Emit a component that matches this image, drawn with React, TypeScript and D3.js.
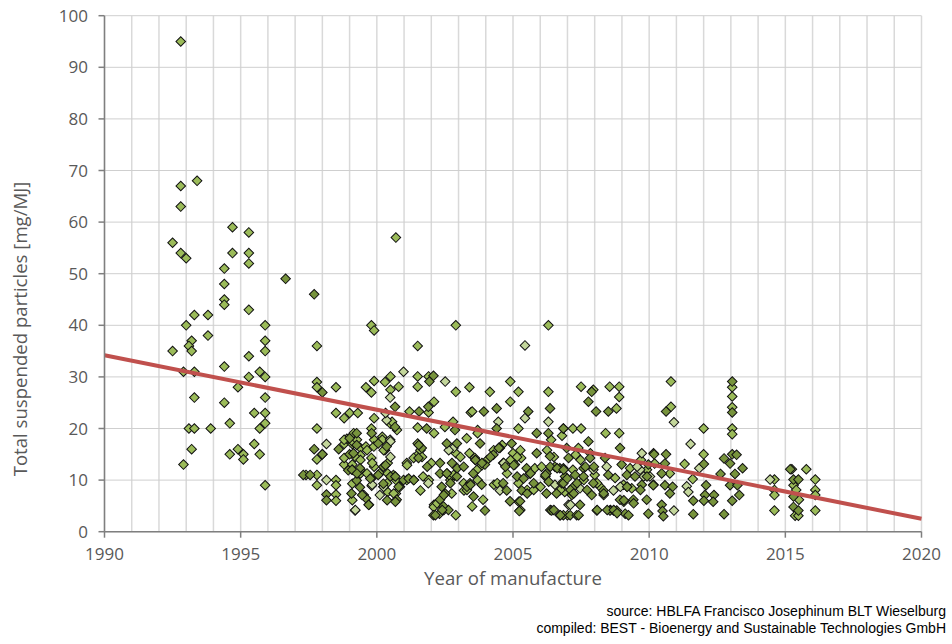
import React from 'react';
import * as d3 from 'd3';

// [year of manufacture, TSP mg/MJ]
const seriesMain: [number, number][] = [
  [1992.8, 95], [1992.8, 67], [1993.4, 68], [1992.8, 63], [1994.7, 59], [1995.3, 58], [2000.7, 57], [1992.5, 56],
  [1992.8, 54], [1993.0, 53], [1994.7, 54], [1995.3, 54], [1995.3, 52], [1994.4, 51], [1994.4, 48], [1994.4, 45],
  [1994.4, 44], [1993.3, 42], [1993.8, 42], [1995.3, 43], [1993.0, 40], [1995.9, 40], [1999.8, 40], [1999.9, 39],
  [1993.2, 37], [1993.8, 38], [1995.9, 37], [1993.1, 36], [1997.8, 36], [2001.5, 36], [1992.5, 35], [1993.2, 35],
  [1995.9, 35], [1995.3, 34], [1992.9, 31], [1993.3, 31], [1994.4, 32], [1994.9, 28], [1995.3, 30], [1995.7, 31],
  [1995.9, 30], [1994.4, 25], [1993.3, 26], [1995.9, 26], [1995.5, 23], [1995.9, 23], [1995.9, 21], [1995.7, 20],
  [1994.6, 21], [1993.1, 20], [1993.3, 20], [1993.9, 20], [1993.2, 16], [1994.9, 16], [1994.6, 15], [1995.1, 15],
  [1995.1, 14], [1995.5, 17], [1995.7, 15], [1992.9, 13], [1995.9, 9], [2002.9, 40], [2006.3, 40],
  [1997.8, 29], [1997.8, 28], [1998.5, 28], [1999.6, 28], [1999.9, 29.2], [1999.8, 27], [2000.3, 29], [1998.5, 23],
  [1998.8, 22], [1999.0, 23], [1999.3, 23], [1999.9, 22], [1997.8, 20], [1999.8, 20], [1998.0, 15], [1997.8, 14],
  [1998.8, 17], [1997.4, 11], [1997.8, 11], [1997.8, 9], [1998.5, 10], [1998.5, 9], [1998.5, 7.2], [1998.5, 6],
  [1998.9, 18], [1998.8, 13], [1999.1, 13], [1999.1, 17],
  [1999.1, 18.4], [1998.8, 17.8], [1999.1, 17.5], [1999.4, 16.2], [1999.6, 16.5], [1999.4, 14.8], [1998.8, 14.3],
  [1999.1, 12.0], [1999.8, 14.3], [1999.9, 12.6], [2000.2, 18.4], [2000.3, 15.8], [1999.9, 17.8], [2000.4, 13.3],
  [2000.1, 11.3], [2000.4, 7.7], [1999.1, 9.3], [1999.1, 6.1], [1999.8, 10.3], [1999.4, 11.3],
  [2000.5, 30.1], [2000.5, 27.5], [2000.8, 28.1], [2001.5, 30.1], [2001.5, 28.1], [2001.9, 30.1], [2002.9, 27.1],
  [2003.4, 28.0], [2003.45, 23.1], [2001.2, 23.3], [2002.1, 25.2], [2001.9, 23.1], [2000.5, 20.9], [2001.5, 20.2],
  [2002.1, 19.1], [2002.5, 20.3], [2002.8, 21.3], [2003.3, 18.1], [2003.7, 19.7], [2000.2, 17.8], [2001.5, 17.1],
  [2001.5, 14.9], [2001.1, 13.3], [2001.35, 14.3], [2002.0, 13.3], [2002.9, 15.2], [2003.4, 15.2], [2003.6, 14.3],
  [2000.4, 11.3], [2000.7, 10.0], [2000.7, 7.4], [2001.1, 10.0], [2001.7, 10.7], [2001.6, 8.0], [2002.7, 10.0],
  [2002.75, 7.4], [2002.1, 5.2], [2002.3, 3.5], [2002.9, 3.2], [2003.2, 8.0], [2003.7, 10.0],
  [2004.9, 29.1], [2004.15, 27.1], [2005.2, 27.1], [2006.3, 27.1], [2004.9, 25.2], [2003.5, 23.3], [2005.2, 20.0],
  [2003.7, 19.1], [2006.8, 18.6], [2006.4, 17.8], [2005.0, 15.2], [2005.3, 14.3], [2005.8, 12.3], [2006.05, 12.6],
  [2004.3, 9.1], [2005.2, 9.4], [2006.9, 7.7], [2003.9, 6.2], [2007.0, 3.2], [2003.5, 4.9],
  [2007.5, 28.1], [2007.95, 27.5], [2008.55, 28.1], [2008.9, 28.1], [2008.9, 26.1], [2008.8, 23.9], [2007.2, 20.0],
  [2007.5, 20.0], [2008.4, 19.1], [2008.9, 19.1], [2007.4, 16.2], [2007.3, 14.9], [2009.7, 13.9], [2007.2, 12.0],
  [2009.3, 12.3], [2008.0, 11.0], [2008.2, 8.7], [2008.75, 10.4], [2009.06, 9.1], [2009.36, 8.4],
  [2010.8, 29.1], [2010.8, 24.2], [2012.0, 20.0], [2013.05, 28.0], [2013.05, 26.2], [2013.05, 24.1], [2013.05, 20.0],
  [2013.05, 18.9], [2012.0, 15.0], [2010.2, 13.2], [2011.3, 13.1], [2010.76, 11.3], [2011.6, 10.2],
  [2014.6, 10.1], [2014.6, 8.1], [2014.6, 7.1], [2014.6, 4.1], [2015.24, 12.1], [2015.77, 12.1], [2015.3, 9.0],
  [2015.4, 8.1], [2015.5, 6.2], [2015.36, 3.1], [2015.48, 3.1], [2016.1, 10.1], [2016.1, 8.1], [2016.1, 7.1],
  [2016.1, 4.1],
  [1999.15, 19.1], [1999.27, 17.8], [1999.64, 15.8], [1999.21, 14.5], [1999.4, 13.9], [1999.4, 12.0], [1999.64, 11.3],
  [1999.83, 13.3], [1999.89, 16.5], [2000.25, 15.8], [2000.38, 9.4], [2000.62, 7.4], [2000.56, 21.3], [2000.74, 19.7],
  [2001.11, 12.9], [2001.6, 15.8], [2001.66, 14.5], [2001.91, 10.0], [2002.09, 4.8], [2002.21, 5.5], [2002.46, 4.2],
  [2002.58, 11.3], [2002.7, 10.7], [2002.82, 11.0], [2003.07, 14.5], [2003.19, 9.4], [2003.31, 8.1], [2003.68, 12.0],
  [2003.86, 12.9], [2004.05, 13.9], [2004.29, 15.8], [2004.6, 16.8], [2004.78, 11.3], [2004.91, 13.9], [2005.15, 14.5],
  [2005.27, 15.8], [2005.52, 8.1], [2005.76, 8.1], [2005.21, 5.8], [2005.27, 4.2], [2004.42, 9.4], [2006.01, 8.7],
  [2006.19, 10.7], [2006.25, 15.8], [2006.5, 14.5], [2006.74, 8.1], [2006.37, 4.2], [2007.48, 13.9], [2007.6, 10.0],
  [2007.84, 15.2], [2008.09, 9.4], [2008.33, 7.1], [2008.58, 4.2], [2009.07, 5.8], [2009.92, 12.0], [2009.19, 8.7],
];

const seriesPale: [number, number][] = [
  [1998.15, 17], [1998.15, 10], [2000.98, 31.0], [2000.49, 26.0], [2002.51, 29.1], [2000.36, 21.6], [2000.49, 17.8],
  [2002.81, 16.2], [2000.24, 8.7], [2001.35, 10.0], [2001.89, 9.4], [1999.2, 4.1], [1999.81, 8.9], [2000.11, 7.1],
  [2005.44, 36.1], [2005.44, 22.0], [2004.46, 21.3], [2006.3, 21.3], [2004.52, 16.2], [2004.64, 13.3], [2006.54, 9.1],
  [2004.52, 8.0], [2009.73, 15.2], [2007.95, 12.0], [2008.44, 12.6], [2009.67, 12.0], [2010.03, 10.7], [2007.46, 8.4],
  [2008.69, 8.0], [2007.04, 5.2], [2010.91, 21.2], [2011.52, 17.0], [2011.84, 12.3], [2011.38, 8.8], [2011.44, 7.7],
  [2010.91, 4.1], [2014.44, 10.1],
  [1999.52, 7.1], [1999.21, 4.2], [1999.83, 9.1], [2000.5, 14.5], [2000.25, 8.7], [2000.5, 17.5], [2000.32, 23.0],
  [2002.64, 15.8], [2003.62, 13.9], [2004.48, 16.2], [2004.66, 13.3], [2007.11, 5.2], [2009.8, 10.7], [2009.56, 12.6],
  [2008.94, 8.7],
];

const seriesDark: [number, number][] = [
  [1996.65, 49], [1997.7, 46], [1998.0, 27], [1997.7, 16], [1998.0, 15], [1997.3, 11], [1997.55, 11], [1998.15, 7.2],
  [1998.15, 6.1], [1999.0, 15], [1998.6, 16],
  [1999.0, 18.1], [1999.26, 19.1], [1999.26, 16.8], [1999.14, 15.2], [1999.38, 12.3], [2000.05, 17.1], [1999.81, 19.1],
  [2000.24, 9.3], [1999.26, 9.9], [1999.38, 8.6], [1999.07, 7.4], [1999.71, 5.2], [1998.95, 11.9], [2000.05, 11.0],
  [1999.6, 6.5],
  [2002.08, 30.2], [2001.93, 29.1], [2000.67, 24.2], [2001.55, 23.3], [2001.89, 24.2], [2000.67, 20.3], [2001.83, 20.0],
  [2002.87, 19.7], [2000.36, 16.5], [2001.65, 16.2], [2001.53, 14.3], [2002.32, 13.3], [2002.57, 17.1], [2002.94, 17.1],
  [2000.24, 12.6], [2000.61, 11.0], [2000.85, 8.7], [2000.98, 10.0], [2000.73, 6.2], [2002.32, 11.3], [2002.57, 11.3],
  [2002.94, 10.7], [2002.38, 8.7], [2002.51, 7.4], [2002.32, 6.2], [2002.45, 4.9], [2002.08, 3.2], [2002.63, 4.2],
  [2003.42, 9.4], [2003.55, 6.8],
  [2004.4, 23.9], [2005.56, 23.3], [2006.36, 23.9], [2003.93, 23.3], [2004.4, 20.0], [2005.87, 19.1], [2006.3, 19.1],
  [2006.85, 20.0], [2003.79, 17.1], [2004.95, 17.1], [2004.28, 14.9], [2005.87, 15.2], [2006.36, 14.6], [2003.97, 13.0],
  [2005.07, 13.0], [2005.5, 12.3], [2006.54, 12.6], [2006.72, 12.3], [2005.62, 11.3], [2006.23, 11.3], [2003.54, 11.3],
  [2003.85, 9.1], [2004.64, 9.4], [2006.79, 9.4], [2004.77, 8.0], [2005.32, 8.0], [2006.23, 7.4], [2006.6, 7.4],
  [2004.89, 5.9], [2005.26, 5.9], [2003.97, 4.1], [2005.23, 4.0], [2006.42, 4.1], [2006.72, 3.2],
  [2007.89, 27.1], [2007.77, 25.2], [2008.05, 23.3], [2008.5, 23.3], [2006.85, 20.0], [2007.77, 17.5], [2008.93, 16.2],
  [2010.16, 15.2], [2006.97, 16.2], [2007.04, 14.3], [2007.83, 14.3], [2008.38, 14.3], [2008.99, 13.0], [2009.97, 13.0],
  [2006.85, 12.3], [2007.59, 12.3], [2006.91, 10.7], [2007.28, 11.0], [2007.59, 10.7], [2008.5, 11.0], [2009.18, 11.0],
  [2009.48, 10.7], [2006.85, 9.4], [2007.22, 8.7], [2007.95, 9.4], [2009.73, 9.1], [2010.16, 9.1], [2007.16, 7.1],
  [2007.89, 7.1], [2008.32, 8.0], [2009.42, 6.2], [2009.91, 6.2], [2008.93, 6.2], [2007.46, 5.2], [2006.85, 3.2],
  [2007.1, 3.2], [2007.34, 3.2], [2008.08, 4.1], [2008.56, 4.1], [2008.69, 4.1], [2008.81, 4.1], [2009.12, 3.5],
  [2009.24, 3.2], [2009.97, 3.5],
  [2010.62, 23.3], [2013.05, 29.1], [2013.05, 23.1], [2010.18, 15.0], [2010.62, 15.0], [2012.75, 14.2], [2013.05, 15.0],
  [2013.21, 14.9], [2010.58, 13.2], [2012.01, 13.1], [2012.97, 13.2], [2013.43, 12.3], [2010.46, 11.3], [2012.62, 11.2],
  [2013.15, 11.2], [2010.15, 9.0], [2010.58, 9.0], [2010.86, 8.7], [2012.09, 9.0], [2012.97, 9.0], [2013.24, 9.0],
  [2010.76, 7.4], [2012.05, 7.1], [2012.38, 7.1], [2013.31, 7.1], [2011.62, 6.0], [2012.01, 6.0], [2012.35, 5.8],
  [2013.05, 6.0], [2010.46, 5.2], [2010.49, 4.0], [2010.52, 3.0], [2011.62, 3.4], [2012.75, 3.4],
  [2015.18, 12.1], [2015.3, 10.1], [2015.48, 10.1], [2015.3, 6.8], [2015.3, 4.8], [2015.48, 4.1],
  [1999.09, 12.0], [1999.27, 11.3], [1999.46, 7.1], [1999.7, 5.2], [1999.76, 10.3], [2000.32, 12.9], [2000.5, 10.7],
  [2000.68, 10.7], [2000.8, 8.7], [2000.38, 6.1], [2000.68, 5.8], [2001.17, 10.3], [2001.36, 10.0], [2001.54, 16.8],
  [2001.85, 12.6], [2002.15, 3.2], [2002.4, 4.2], [2002.46, 7.1], [2002.76, 13.3], [2002.95, 12.3], [2002.7, 9.4],
  [2003.19, 12.6], [2003.31, 8.7], [2003.44, 9.1], [2003.62, 13.9], [2003.86, 13.3], [2004.17, 14.5], [2004.48, 16.2],
  [2004.72, 12.6], [2005.03, 12.9], [2005.15, 10.7], [2005.39, 10.3], [2005.64, 11.3], [2005.76, 9.4], [2005.52, 7.4],
  [2006.19, 11.0], [2006.31, 9.7], [2006.37, 12.6], [2006.62, 12.3], [2006.86, 12.0], [2006.99, 10.3], [2007.11, 8.1],
  [2007.23, 7.4], [2007.35, 9.4], [2006.5, 4.2], [2006.74, 3.2], [2007.41, 3.2], [2007.66, 12.6], [2007.72, 8.1],
  [2007.97, 12.6], [2008.09, 4.2], [2008.33, 7.4], [2008.46, 4.2], [2008.7, 4.2], [2008.82, 3.6], [2009.07, 6.1],
  [2009.43, 5.5], [2009.68, 8.1], [2009.92, 10.7], [2009.19, 8.7],
];

// linear trend, read at the plot edges
const trendYears = [1990, 2020];
const trendValues = [34.2, 2.5];

const xTicks = [1990, 1995, 2000, 2005, 2010, 2015, 2020];
const yTicks = [0, 10, 20, 30, 40, 50, 60, 70, 80, 90, 100];

const W = 952;
const H = 644;
const font = "'Open Sans', sans-serif";
const arial = "'Liberation Sans', Arial, sans-serif";
const grey = '#595959';

const App = () => {
  const x = d3.scaleLinear().domain([1990, 2020]).range([104.5, 921.5]);
  const y = d3.scaleLinear().domain([0, 100]).range([531.7, 15.7]);
  const years = d3.range(1990, 2021);

  const diamond = d3.symbol(d3.symbolSquare, 46)();
  const line = d3.line<number>()
    .x((d, i) => x(trendYears[i]))
    .y((d) => y(d));

  const groups: [[number, number][], string][] = [
    [seriesMain, '#9bbb59'],
    [seriesPale, '#c3d69b'],
    [seriesDark, '#77933c'],
  ];

  return (
    <svg width={W} height={H} style={{ position: 'absolute', left: 0, top: 0, background: '#fff' }}>
      {years.map((yr) => (
        <line key={'v' + yr} x1={x(yr)} x2={x(yr)} y1={y(100)} y2={y(0)} stroke="#d9d9d9" strokeWidth={1.5} />
      ))}
      {yTicks.map((t) => (
        <line key={'h' + t} x1={x(1990)} x2={x(2020)} y1={y(t)} y2={y(t)} stroke="#cfcfcf" strokeWidth={1} />
      ))}

      {groups.map(([data, fill], gi) => (
        <g key={gi}>
          {data.map((d, i) => (
            <path
              key={i}
              d={diamond || ''}
              transform={`translate(${x(d[0])},${y(d[1])}) rotate(45)`}
              fill={fill}
              stroke="#111"
              strokeWidth={1}
            />
          ))}
        </g>
      ))}

      <path d={line(trendValues) || ''} fill="none" stroke="#c0504d" strokeWidth={4} />

      <line x1={x(1990)} x2={x(1990)} y1={y(100)} y2={y(0)} stroke="#7f7f7f" strokeWidth={1.5} />
      <line x1={x(1990)} x2={x(2020)} y1={y(0)} y2={y(0)} stroke="#7f7f7f" strokeWidth={1.5} />
      {xTicks.map((t) => (
        <g key={'xt' + t}>
          <line x1={x(t)} x2={x(t)} y1={y(0)} y2={y(0) + 6} stroke="#7f7f7f" strokeWidth={1.5} />
          <text x={x(t)} y={560} textAnchor="middle" fontFamily={font} fontSize={17} fill={grey}>{t}</text>
        </g>
      ))}
      {yTicks.map((t) => (
        <g key={'yt' + t}>
          <line x1={x(1990) - 6} x2={x(1990)} y1={y(t)} y2={y(t)} stroke="#7f7f7f" strokeWidth={1.5} />
          <text x={88} y={y(t)} dy="0.36em" textAnchor="end" fontFamily={font} fontSize={17} fill={grey}>{t}</text>
        </g>
      ))}

      <text x={513} y={585} textAnchor="middle" fontFamily={font} fontSize={18.6} fill={grey}>Year of manufacture</text>
      <text
        transform="translate(20,329) rotate(-90)"
        textAnchor="middle"
        dy="0.35em"
        fontFamily={font}
        fontSize={18.6}
        fill={grey}
      >
        Total suspended particles [mg/MJ]
      </text>

      <text x={946} y={616} textAnchor="end" fontFamily={arial} fontSize={14} fill="#000">
        source: HBLFA Francisco Josephinum BLT Wieselburg
      </text>
      <text x={946} y={633} textAnchor="end" fontFamily={arial} fontSize={14} fill="#000">
        compiled: BEST - Bioenergy and Sustainable Technologies GmbH
      </text>
    </svg>
  );
};

export default App;
